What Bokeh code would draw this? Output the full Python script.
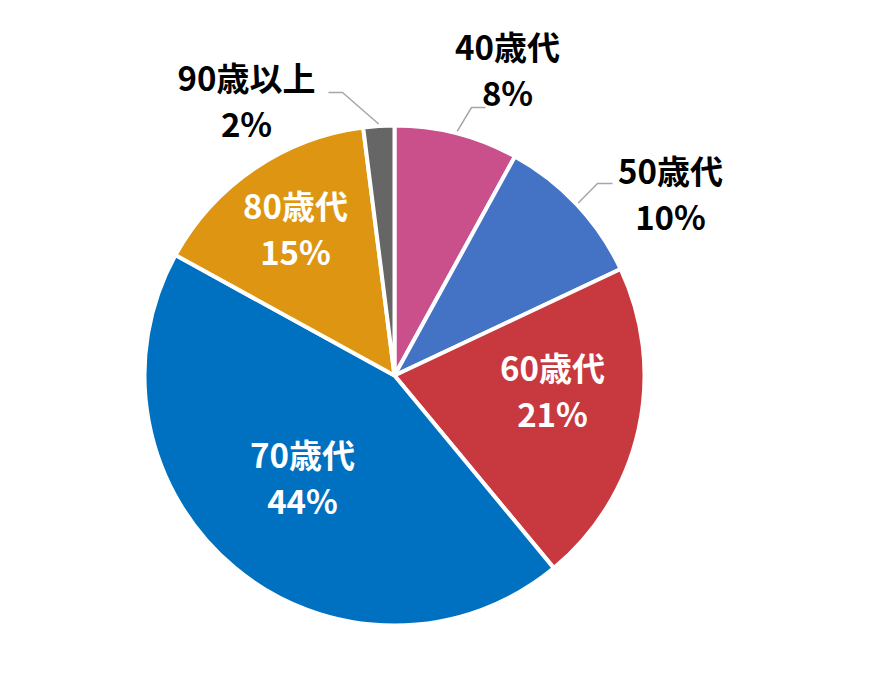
import math
from bokeh.plotting import figure
from bokeh.models import Range1d, ColumnDataSource
from bokeh.core.properties import value
from bokeh.embed import file_html
from bokeh.resources import INLINE

# ---- data ----
categories = ["40歳代", "50歳代", "60歳代", "70歳代", "80歳代", "90歳以上"]
shares = [8, 10, 21, 44, 15, 2]
colors = ["#C9508A", "#4472C4", "#C8393F", "#0070C0", "#DE9612", "#666666"]

# ---- layout (page pixel coordinates) ----
CX, CY, R = 394, 375, 248
# label block centres (x, y) in page pixels
label_pos = [(507, 72), (670, 196), (552, 393), (302, 480), (295, 231), (246, 103)]
label_inside = [False, False, True, True, True, False]
# leader line elbow and end (for outside labels)
leader_elbow = {0: (471, 107), 1: (597, 183), 5: (342, 92)}
leader_end = {0: (485, 107), 1: (612, 183), 5: (328, 92)}
LINE_GAP = 46
TEXT_DY = -4
FONT = "Noto Sans CJK JP"
FSIZE = "33px"

def Y(y):
    return -y

total = sum(shares)
starts, ends, mids = [], [], []
cum = 0.0
for s in shares:
    a0 = math.pi / 2 - 2 * math.pi * cum / total
    cum += s
    a1 = math.pi / 2 - 2 * math.pi * cum / total
    starts.append(a0)
    ends.append(a1)
    mids.append((a0 + a1) / 2)

p = figure(width=864, height=684, x_range=Range1d(0, 864), y_range=Range1d(-684, 0),
           output_backend="svg", toolbar_location=None, min_border=0,
           x_axis_type=None, y_axis_type=None)
p.grid.visible = False
p.outline_line_color = None
p.background_fill_color = "white"
p.border_fill_color = "white"

src = ColumnDataSource(dict(start=starts, end=ends, color=colors,
                            x=[CX] * len(shares), y=[Y(CY)] * len(shares)))
p.wedge(x="x", y="y", radius=R + 2, start_angle="start", end_angle="end",
        direction="clock", fill_color="color", line_color="white", line_width=4,
        source=src)

# leader lines
for i, (ex, ey) in leader_elbow.items():
    sx = CX + 252 * math.cos(mids[i])
    sy = Y(CY) + 252 * math.sin(mids[i])
    tx, ty = leader_end[i]
    p.line([sx, ex, tx], [sy, Y(ey), Y(ty)], line_color="#A6A6A6", line_width=1.5)

# labels
names_x, names_y, pct_x, pct_y, tcol = [], [], [], [], []
pct_text = [f"{s}%" for s in shares]
for i, (lx, ly) in enumerate(label_pos):
    names_x.append(lx)
    names_y.append(Y(ly - LINE_GAP / 2 + TEXT_DY))
    pct_x.append(lx)
    pct_y.append(Y(ly + LINE_GAP / 2 + TEXT_DY))
    tcol.append("white" if label_inside[i] else "black")

lsrc = ColumnDataSource(dict(x=names_x, y=names_y, t=categories, c=tcol))
psrc = ColumnDataSource(dict(x=pct_x, y=pct_y, t=pct_text, c=tcol))
for s in (lsrc, psrc):
    p.text(x="x", y="y", text="t", text_color="c", source=s,
           text_font=value(FONT), text_font_size=FSIZE, text_font_style="bold",
           text_align="center", text_baseline="middle")

open("out.html", "w").write(file_html(p, INLINE))
